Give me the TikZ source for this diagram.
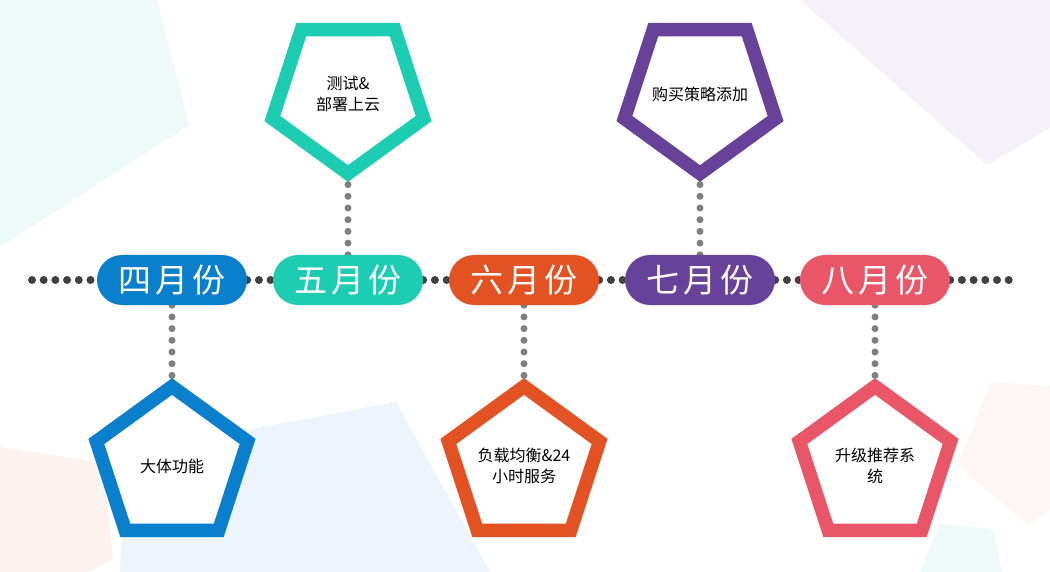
\documentclass[tikz,border=0pt]{standalone}
\usepackage{fontspec}
\setmainfont{Noto Sans CJK SC}
\newfontfamily\pillfont{Noto Sans CJK SC}[LetterSpace=12]
\usepackage{xcolor}
\usetikzlibrary{shapes.geometric}
\definecolor{cblue}{HTML}{0A7FCB}
\definecolor{cteal}{HTML}{1DCDB3}
\definecolor{corange}{HTML}{E25222}
\definecolor{cpurple}{HTML}{674298}
\definecolor{cred}{HTML}{E85668}
\definecolor{dotdark}{HTML}{444040}
\definecolor{dotgray}{HTML}{7F7F7F}
\definecolor{bgteal}{HTML}{EEFAF7}
\definecolor{bglav}{HTML}{F4F2F8}
\definecolor{bgpink}{HTML}{FCF2F0}
\definecolor{bgblue}{HTML}{EDF4FB}
\pgfdeclarelayer{bgl}
\pgfdeclarelayer{dotl}
\pgfsetlayers{bgl,dotl,main}
\tikzset{
  pill/.style={rectangle,rounded corners=25pt,minimum width=150pt,minimum height=50pt,inner sep=0pt,text=white,font=\fontsize{33}{36}\pillfont},
  pent/.style={regular polygon,regular polygon sides=5,minimum size=159pt,inner sep=0pt,line width=13.5pt,fill=white,align=center,font=\fontsize{16}{21}\selectfont},
  flip/.style={shape border rotate=180},
  hdots/.style={dotdark,line width=8pt,line cap=round,dash pattern=on 0pt off 11.7pt},
  vdots/.style={dotgray,line width=7pt,line cap=round,dash pattern=on 0pt off 11.7pt}
}
\newcommand{\ptx}[1]{\makebox[0pt]{#1}}

\begin{document}
\begin{tikzpicture}[x=1pt,y=-1pt]
\useasboundingbox (0,0) rectangle (1050,572);
\begin{pgfonlayer}{bgl}
\fill[white] (0,0) rectangle (1050,572);
\fill[bgteal] (0,0) -- (157,0) -- (189,125) -- (0,247) -- cycle;
\fill[bglav] (800,0) -- (1050,0) -- (1050,128) -- (987,165) -- cycle;
\fill[bgpink] (0,447) -- (103,463) -- (113,559) -- (88,572) -- (0,572) -- cycle;
\fill[bgblue] (120,572) -- (125,453) -- (396,402) -- (490,572) -- cycle;
\fill[bgpink!70] (991,382) -- (1050,386) -- (1050,510) -- (1028,525) -- (958,466) -- cycle;
\fill[bgteal] (940,524) -- (993,529) -- (1002,572) -- (920,572) -- cycle;
\end{pgfonlayer}

\node[pill,fill=cblue] (m4) at (172,280) {四月份};
\node[pill,fill=cteal] (m5) at (348,280) {五月份};
\node[pill,fill=corange] (m6) at (524,280) {六月份};
\node[pill,fill=cpurple] (m7) at (700,280) {七月份};
\node[pill,fill=cred] (m8) at (875,280) {八月份};
\coordinate (lft) at (32,280);
\coordinate (rgt) at (1009,280);

\node[pent,draw=cblue] (g4) at (172,466) {\ptx{大体功能}};
\node[pent,flip,draw=cteal] (g5) at (348,94) {\ptx{测试\&}\\\ptx{部署上云}};
\node[pent,draw=corange] (g6) at (524,466) {\ptx{负载均衡\&24}\\\ptx{小时服务}};
\node[pent,flip,draw=cpurple] (g7) at (700,94) {\ptx{购买策略添加}};
\node[pent,draw=cred] (g8) at (875,466) {\ptx{升级推荐系}\\\ptx{统}};

\begin{pgfonlayer}{dotl}
\draw[hdots] (lft) -- (m4);
\foreach \a/\b in {m4/m5,m5/m6,m6/m7,m7/m8} \draw[hdots] (\a) -- (\b);
\draw[hdots] (m8) -- (rgt);
\foreach \a/\b in {m4/g4,m5/g5,m6/g6,m7/g7,m8/g8} \draw[vdots] (\a) -- (\b);
\end{pgfonlayer}
\end{tikzpicture}
\end{document}
